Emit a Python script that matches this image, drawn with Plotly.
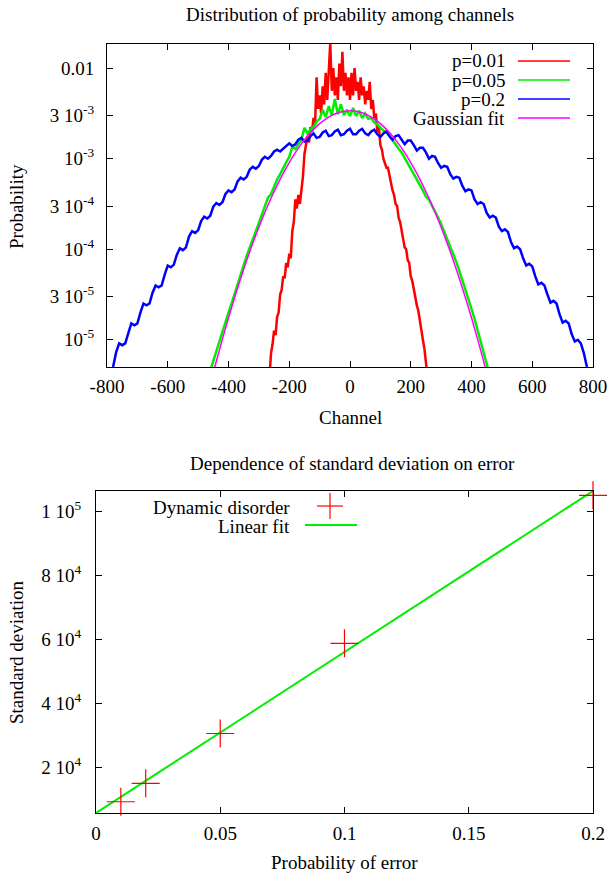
import numpy as np
import plotly.graph_objects as go

W, H = 610, 876

# ---------------- data: top panel (log10 of probability) -------------
blue_start, blue_step = -780, 10      # p = 0.2
blue_log = [
    -5.30, -5.14, -5.04, -5.06, -5.04, -4.92, -4.82, -4.84, -4.82, -4.70,
    -4.60, -4.62, -4.60, -4.48, -4.40, -4.42, -4.40, -4.28, -4.18, -4.20,
    -4.17, -4.06, -3.99, -4.01, -3.98, -3.86, -3.80, -3.82, -3.79, -3.69,
    -3.64, -3.66, -3.63, -3.53, -3.49, -3.51, -3.48, -3.39, -3.35, -3.37,
    -3.34, -3.25, -3.21, -3.23, -3.20, -3.12, -3.09, -3.11, -3.08, -3.01,
    -2.98, -3.00, -2.97, -2.92, -2.90, -2.92, -2.89, -2.85, -2.83, -2.86,
    -2.84, -2.79, -2.77, -2.81, -2.80, -2.75, -2.72, -2.77, -2.76, -2.71,
    -2.69, -2.75, -2.74, -2.70, -2.68, -2.74, -2.73, -2.69, -2.67, -2.73,
    -2.73, -2.69, -2.67, -2.72, -2.74, -2.70, -2.68, -2.73, -2.76, -2.72,
    -2.70, -2.75, -2.79, -2.75, -2.74, -2.79, -2.84, -2.80, -2.80, -2.85,
    -2.91, -2.88, -2.88, -2.93, -3.00, -2.97, -2.98, -3.05, -3.10, -3.08,
    -3.09, -3.17, -3.22, -3.20, -3.21, -3.30, -3.36, -3.34, -3.35, -3.45,
    -3.50, -3.48, -3.50, -3.60, -3.65, -3.63, -3.65, -3.75, -3.80, -3.78,
    -3.81, -3.92, -3.99, -3.97, -4.00, -4.10, -4.18, -4.16, -4.19, -4.30,
    -4.39, -4.37, -4.40, -4.50, -4.59, -4.57, -4.60, -4.72, -4.81, -4.79,
    -4.82, -4.94, -5.02, -5.00, -5.04, -5.15, -5.30,
]

green_start, green_step = -460, 10    # p = 0.05
green_log = [
    -5.34, -5.23, -5.13, -5.02, -4.91, -4.80, -4.70, -4.60, -4.49, -4.38,
    -4.27, -4.17, -4.07, -3.98, -3.88, -3.80, -3.71, -3.62, -3.54, -3.43,
    -3.39, -3.30, -3.23, -3.17, -3.10, -3.04, -2.98, -2.87, -2.89, -2.84,
    -2.79, -2.66, -2.72, -2.68, -2.65, -2.59, -2.56, -2.46, -2.54, -2.42,
    -2.52, -2.34, -2.51, -2.40, -2.52, -2.46, -2.53, -2.44, -2.53, -2.47,
    -2.55, -2.50, -2.56, -2.55, -2.60, -2.62, -2.66, -2.69, -2.71, -2.75,
    -2.80, -2.84, -2.89, -2.93, -2.99, -3.05, -3.10, -3.16, -3.22, -3.29,
    -3.35, -3.42, -3.45, -3.52, -3.58, -3.65, -3.72, -3.80, -3.88, -3.96,
    -4.05, -4.14, -4.24, -4.34, -4.44, -4.55, -4.66, -4.77, -4.89, -5.01,
    -5.13, -5.26, -5.39,
]

red_start, red_step = -265, 5         # p = 0.01
red_log = [
    -5.40, -5.15, -5.05, -4.90, -4.95, -4.75, -4.70, -4.50, -4.45, -4.30,
    -4.32, -4.15, -4.20, -4.05, -4.10, -3.80, -3.70, -3.45, -3.55, -3.40,
    -3.50, -3.35, -3.20, -2.95, -2.85, -2.75, -2.82, -2.65, -2.70, -2.55,
    -2.62, -2.10, -2.45, -2.30, -2.50, -2.20, -2.40, -2.05, -2.35, -1.95,
    -1.72, -2.25, -2.00, -2.30, -2.10, -2.35, -1.95, -2.20, -1.82, -2.25,
    -2.05, -2.30, -2.10, -2.35, -2.05, -2.30, -2.00, -2.25, -2.15, -2.35,
    -2.10, -2.30, -2.20, -2.40, -2.25, -2.35, -2.15, -2.45, -2.35, -2.55,
    -2.50, -2.70, -2.65, -2.85, -2.90, -3.00, -3.05, -3.10, -3.10, -3.20,
    -3.25, -3.35, -3.40, -3.50, -3.52, -3.65, -3.70, -3.80, -3.85, -3.98,
    -4.00, -4.12, -4.15, -4.30, -4.35, -4.45, -4.50, -4.62, -4.68, -4.80,
    -4.88, -5.00, -5.10, -5.25, -5.40,
]

fit_start, fit_step = -460, 20        # Gaussian fit
fit_log = [
    -5.496, -5.238, -4.993, -4.758, -4.535, -4.323, -4.123, -3.934, -3.757, -3.591,
    -3.437, -3.294, -3.162, -3.042, -2.933, -2.836, -2.750, -2.676, -2.613, -2.562,
    -2.521, -2.493, -2.476, -2.470, -2.476, -2.493, -2.521, -2.562, -2.613, -2.676,
    -2.750, -2.836, -2.933, -3.042, -3.162, -3.294, -3.437, -3.591, -3.757, -3.934,
    -4.123, -4.323, -4.535, -4.758, -4.993, -5.238, -5.496,
]

top_xticks = [-800, -600, -400, -200, 0, 200, 400, 600, 800]
top_xticktext = ["-800", "-600", "-400", "-200", "0", "200", "400", "600", "800"]
top_yticks = [1e-5, 3e-5, 1e-4, 3e-4, 1e-3, 3e-3, 0.01]
top_yticktext = ["10<sup>-5</sup>", "3 10<sup>-5</sup>", "10<sup>-4</sup>", "3 10<sup>-4</sup>",
                 "10<sup>-3</sup>", "3 10<sup>-3</sup>", "0.01"]

# ---------------- data: bottom panel -------------
err_prob = [0.01, 0.02, 0.05, 0.1, 0.2]
std_dev = [9150, 14900, 30500, 58700, 105000]
fit_x = [0.0, 0.2]
fit_y = [5625, 106350]
bot_xticks = [0, 0.05, 0.1, 0.15, 0.2]
bot_xticktext = ["0", "0.05", "0.1", "0.15", "0.2"]
bot_yticks = [20000, 40000, 60000, 80000, 100000]
bot_yticktext = ["2 10<sup>4</sup>", "4 10<sup>4</sup>", "6 10<sup>4</sup>",
                 "8 10<sup>4</sup>", "1 10<sup>5</sup>"]


def chan(start, step, vals):
    return [start + step * i for i in range(len(vals))]


RED, GREEN, BLUE, MAG = "#ff0000", "#00ee00", "#0000ff", "#ff00ff"
FONT = "Liberation Serif, Times New Roman, Times, serif"
FS = 19

fig = go.Figure()
fig.add_trace(go.Scatter(x=chan(red_start, red_step, red_log), y=10 ** np.array(red_log),
                         mode="lines", line=dict(color=RED, width=2.5), xaxis="x", yaxis="y"))
fig.add_trace(go.Scatter(x=chan(green_start, green_step, green_log), y=10 ** np.array(green_log),
                         mode="lines", line=dict(color=GREEN, width=2.5), xaxis="x", yaxis="y"))
fig.add_trace(go.Scatter(x=chan(blue_start, blue_step, blue_log), y=10 ** np.array(blue_log),
                         mode="lines", line=dict(color=BLUE, width=2.5), xaxis="x", yaxis="y"))
fig.add_trace(go.Scatter(x=chan(fit_start, fit_step, fit_log), y=10 ** np.array(fit_log),
                         mode="lines", line=dict(color=MAG, width=1.5, shape="spline"),
                         xaxis="x", yaxis="y"))

fig.add_trace(go.Scatter(x=fit_x, y=fit_y, mode="lines", line=dict(color=GREEN, width=2),
                         xaxis="x2", yaxis="y2"))
fig.add_trace(go.Scatter(x=err_prob, y=std_dev, mode="markers", cliponaxis=False,
                         marker=dict(symbol="cross-thin", size=20,
                                     line=dict(color=RED, width=1.2), color=RED),
                         xaxis="x2", yaxis="y2"))


def px_x(p):
    return p / W


def px_y(p):
    return 1 - p / H


axis_common = dict(showline=True, linecolor="black", linewidth=1, mirror="allticks",
                   ticks="inside", ticklen=6, tickcolor="black", showgrid=False,
                   zeroline=False, automargin=False,
                   tickfont=dict(family=FONT, size=FS, color="black"))

fig.update_layout(
    width=W, height=H, margin=dict(l=0, r=0, t=0, b=0, autoexpand=False),
    paper_bgcolor="white", plot_bgcolor="white", showlegend=False,
    font=dict(family=FONT, size=FS, color="black"),
    xaxis=dict(domain=[px_x(107), px_x(593)], anchor="y", range=[-800, 800],
               tickvals=top_xticks, ticktext=top_xticktext, ticklabelstandoff=2, **axis_common),
    yaxis=dict(domain=[px_y(367), px_y(44)], anchor="x", type="log",
               range=[np.log10(5e-6), np.log10(0.0185)],
               tickvals=top_yticks, ticktext=top_yticktext, ticklabelstandoff=8, **axis_common),
    xaxis2=dict(domain=[px_x(96), px_x(593)], anchor="y2", range=[0, 0.2],
                tickvals=bot_xticks, ticktext=bot_xticktext, ticklabelstandoff=3, **axis_common),
    yaxis2=dict(domain=[px_y(813), px_y(491)], anchor="x2", range=[5625, 106350],
                tickvals=bot_yticks, ticktext=bot_yticktext, ticklabelstandoff=10, **axis_common),
)

ann = []


def text(t, x, y, xanchor="center", angle=0):
    ann.append(dict(text=t, x=px_x(x), y=px_y(y), xref="paper", yref="paper",
                    xanchor=xanchor, yanchor="middle", showarrow=False, textangle=angle,
                    font=dict(family=FONT, size=FS, color="black")))


text("Distribution of probability among channels", 350, 15)
text("Channel", 350, 417)
text("Probability", 17, 207, angle=-90)
text("Dependence of standard deviation on error", 352, 463)
text("Probability of error", 344, 862)
text("Standard deviation", 16, 653, angle=-90)

# top legend
leg_top = [("p=0.01", RED, 61), ("p=0.05", GREEN, 80), ("p=0.2", BLUE, 99), ("Gaussian fit", MAG, 118)]
shapes = []
for lab, col, yy in leg_top:
    text(lab, 507, yy, xanchor="right")
    shapes.append(dict(type="line", xref="paper", yref="paper", x0=px_x(518), x1=px_x(570),
                       y0=px_y(yy), y1=px_y(yy), line=dict(color=col, width=1.5)))

# bottom legend
text("Dynamic disorder", 292, 507, xanchor="right")
text("Linear fit", 292, 526, xanchor="right")
shapes.append(dict(type="line", xref="paper", yref="paper", x0=px_x(317), x1=px_x(343),
                   y0=px_y(506), y1=px_y(506), line=dict(color=RED, width=1.2)))
shapes.append(dict(type="line", xref="paper", yref="paper", x0=px_x(330), x1=px_x(330),
                   y0=px_y(493), y1=px_y(519), line=dict(color=RED, width=1.2)))
shapes.append(dict(type="line", xref="paper", yref="paper", x0=px_x(305), x1=px_x(357),
                   y0=px_y(525), y1=px_y(525), line=dict(color=GREEN, width=2)))

fig.update_layout(annotations=ann, shapes=shapes)
fig.write_html("out.html")
